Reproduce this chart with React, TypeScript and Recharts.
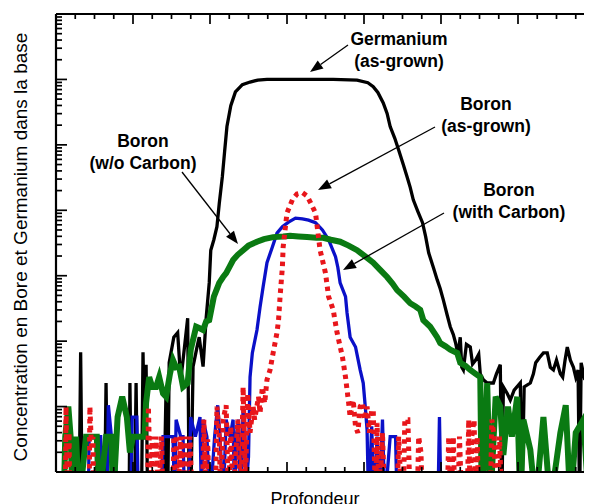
import React from 'react';
import { LineChart, Line, XAxis, YAxis } from 'recharts';

// Depth (arbitrary units, 0..700) and log10(concentration) readings
const germanium: [number, number][] = [
  [0,13.5],[30,13.5],[32,15.83],[34,13.5],[63,13.5],[65,15.36],[67,13.5],[95,13.5],[96,15.36],[98,13.5],
  [102,13.5],[104,15.36],[106,13.5],[111,13.5],[113,15.83],[115,14.5],[117,15.64],[119,13.5],[140,13.5],
  [143,15.3],[145,13.5],[147,15.67],[153,16.06],[158,16.13],[162,15.4],[165,15.71],[171,16.35],[173,13.5],
  [175,13.5],[178,15.61],[183,15.9],[186,16.06],[191,15.61],[195,16.35],[199,16.89],[201,17.39],[205,17.55],
  [209,17.75],[212,18.1],[216,18.51],[219,18.9],[222,19.28],[227,19.6],[233,19.81],[242,19.92],[252,19.96],
  [262,19.99],[274,20.0],[300,20.0],[330,20.0],[360,20.0],[391,19.99],[405,19.95],[412,19.89],[418,19.8],
  [425,19.64],[430,19.48],[434,19.28],[440,19.1],[445,18.92],[451,18.7],[456,18.51],[460,18.35],[464,18.16],
  [470,17.98],[476,17.81],[480,17.6],[484,17.35],[490,17.13],[495,16.94],[499,16.8],[503,16.63],[508,16.4],
  [512,16.22],[516,16.1],[519,15.97],[522,15.8],[525,16.06],[527,15.6],[529,15.56],[533,15.95],[538,15.91],
  [541,15.65],[545,15.71],[549,15.8],[551,15.5],[555,15.41],[560,15.36],[568,15.36],[572,15.5],[577,15.64],
  [579,13.5],[581,15.3],[586,15.2],[590,15.1],[595,15.25],[603,15.36],[605,13.5],[608,15.3],[616,15.36],
  [620,15.5],[623,15.67],[628,15.75],[633,15.82],[638,15.82],[642,15.6],[646,15.56],[650,15.71],[655,15.5],
  [658,15.45],[661,15.7],[664,15.91],[668,15.71],[672,15.6],[675,15.45],[678,15.56],[680,13.5],[682,15.67],
  [686,15.45],[690,15.5],[694,15.71],[700,15.6]
];

const boronWithCarbon: [number, number][] = [
  [0,13.5],[42,13.5],[43,14.54],[58,14.54],[60,13.5],[66,13.5],[68,15.02],[72,14.54],[77,14.54],[79,13.5],
  [97,13.5],[99,14.84],[105,14.84],[107,13.5],[137,13.5],[139,14.54],[152,14.54],[154,13.5],[156,14.8],
  [162,14.54],[165,14.54],[167,13.5],[172,13.5],[175,14.84],[181,14.54],[187,14.84],[189,13.5],[191,14.8],
  [196,14.54],[200,13.5],[206,14.54],[210,15.02],[213,14.54],[217,13.5],[221,14.8],[226,14.54],[230,14.8],
  [232,13.5],[234,14.54],[237,14.8],[240,13.5],[243,15.0],[245,14.6],[247,13.8],[250,14.23],[252,15.45],
  [255,15.82],[261,16.17],[265,16.52],[269,16.83],[274,17.2],[281,17.44],[287,17.65],[294,17.75],[302,17.82],
  [311,17.88],[320,17.87],[328,17.85],[337,17.81],[346,17.7],[354,17.55],[363,17.29],[366,17.13],[369,16.89],
  [376,16.68],[378,16.43],[382,16.06],[389,15.91],[395,15.56],[399,15.36],[402,14.95],[404,14.64],[406,13.5],
  [410,14.7],[413,13.5],[417,14.54],[420,13.5],[424,14.8],[427,13.5],[434,14.54],[441,14.54],[443,13.5],
  [496,13.5],[498,14.84],[500,13.5],[700,13.5]
];

const boronWithoutCarbon: [number, number][] = [
  [0,13.5],[10,13.5],[12,14.54],[16,15.0],[19,14.54],[22,13.5],[26,14.54],[30,13.5],[39,14.54],[53,14.54],
  [56,13.5],[65,14.54],[72,14.54],[74,13.5],[80,14.84],[86,15.15],[92,14.84],[96,14.3],[100,14.54],[115,14.54],
  [117,15.06],[121,15.45],[125,15.3],[130,15.3],[134,15.45],[139,15.2],[143,15.15],[148,15.5],[152,15.71],
  [156,15.6],[160,15.61],[165,15.3],[171,15.36],[175,15.87],[182,16.22],[186,16.2],[191,16.17],[195,16.3],
  [199,16.32],[205,16.68],[212,16.89],[217,16.98],[221,17.04],[226,17.15],[230,17.24],[236,17.32],[243,17.39],
  [250,17.46],[261,17.52],[270,17.56],[282,17.59],[295,17.6],[304,17.61],[315,17.6],[326,17.59],[338,17.58],
  [347,17.58],[357,17.55],[369,17.52],[380,17.46],[391,17.39],[402,17.29],[412,17.2],[421,17.09],[430,16.98],
  [437,16.88],[443,16.78],[452,16.68],[460,16.58],[467,16.53],[473,16.48],[477,16.32],[486,16.22],[490,16.15],
  [495,16.06],[499,15.97],[506,15.92],[512,15.87],[521,15.82],[525,15.67],[532,15.62],[538,15.56],[545,15.5],
  [551,15.45],[553,13.5],[560,15.36],[564,13.5],[571,15.15],[577,15.0],[581,14.26],[587,15.0],[592,14.54],
  [599,15.15],[603,13.5],[607,14.8],[616,14.34],[623,13.5],[633,14.84],[642,13.5],[655,14.6],[662,15.02],
  [668,13.5],[675,14.6],[685,14.8],[692,13.5],[697,14.7],[700,14.5]
];

const boronAsGrown: [number, number][] = [
  [0,13.5],[12,13.5],[13,15.0],[15,13.5],[17,14.6],[18,13.5],[43,13.5],[44,15.0],[46,14.4],[48,14.54],[49,13.5],
  [119,13.5],[120,15.0],[123,13.5],[125,14.54],[127,13.5],[130,14.54],[133,13.5],[137,14.54],[139,13.5],
  [152,13.5],[153,14.54],[156,14.54],[158,13.5],[162,14.54],[165,13.5],[168,14.54],[171,13.5],[174,14.54],
  [177,13.5],[190,13.5],[192,14.8],[195,13.5],[197,14.5],[199,13.5],[207,13.5],[209,15.0],[212,14.54],
  [214,13.5],[217,14.8],[221,15.02],[224,13.5],[227,14.7],[230,13.5],[236,14.8],[240,13.5],[243,15.3],
  [246,13.8],[249,15.2],[252,14.6],[256,15.0],[258,14.8],[263,15.15],[265,14.9],[268,15.3],[271,15.05],
  [274,15.41],[278,15.56],[282,15.82],[287,16.13],[289,16.32],[291,16.68],[294,17.13],[295,17.44],[300,17.96],
  [307,18.16],[313,18.25],[320,18.27],[326,18.22],[330,18.13],[337,17.96],[343,17.39],[350,17.04],[354,16.68],
  [360,16.48],[365,16.13],[372,15.76],[376,15.45],[380,15.06],[382,14.84],[386,15.1],[389,14.69],[392,14.6],
  [395,15.0],[398,15.06],[401,14.8],[404,15.0],[407,14.6],[410,14.95],[412,14.95],[415,13.5],[417,14.75],
  [420,13.5],[424,14.6],[427,13.5],[443,13.5],[445,14.54],[449,13.5],[451,13.5],[453,14.8],[457,14.8],
  [460,13.5],[469,13.5],[471,14.54],[474,14.3],[476,13.5],[508,13.5],[510,14.54],[513,13.5],[516,14.54],
  [518,13.5],[522,13.5],[524,14.54],[527,13.5],[534,13.5],[536,14.8],[538,13.5],[540,14.54],[543,14.8],
  [545,13.5],[547,14.54],[549,13.5],[564,13.5],[566,14.8],[569,14.54],[571,13.5],[574,13.5],[576,14.54],
  [579,13.5],[700,13.5]
];

const xTicks = [0,25,50,75,100,125,150,175,200,225,250,275,300,325,350,375,400,425,450,475,500,525,550,575,600,625,650,675,700];
const decades = [14, 15, 16, 17, 18, 19, 20];
const mantissas = [1, 2, 3, 4, 5, 6, 7, 8, 9];
const yTicks: number[] = [];
decades.forEach((d) => mantissas.forEach((m) => yTicks.push(d + Math.log10(m))));
yTicks.push(21);

const toRows = (arr: [number, number][]) => arr.map(([x, v]) => ({ x, v }));

const FONT = '"Liberation Sans", Arial, Helvetica, sans-serif';

const isMajorY = (v: number) => Math.abs(v - Math.round(v)) < 1e-6;

const XTickBottom = (p: any) => {
  const major = p.payload.value % 100 === 0;
  const len = major ? 10 : 5;
  return <line x1={p.x} x2={p.x} y1={p.y} y2={p.y - len} stroke="#000" strokeWidth={1.7} />;
};
const XTickTop = (p: any) => {
  const major = p.payload.value % 100 === 0;
  const len = major ? 10 : 5;
  return <line x1={p.x} x2={p.x} y1={p.y} y2={p.y + len} stroke="#000" strokeWidth={1.7} />;
};
const YTickLeft = (p: any) => {
  const len = isMajorY(p.payload.value) ? 11 : 6;
  return <line x1={p.x} x2={p.x + len} y1={p.y} y2={p.y} stroke="#000" strokeWidth={1.7} />;
};
const YTickRight = (p: any) => {
  const len = isMajorY(p.payload.value) ? 11 : 6;
  return <line x1={p.x} x2={p.x - len} y1={p.y} y2={p.y} stroke="#000" strokeWidth={1.7} />;
};

const Arrow = ({ x1, y1, x2, y2 }: { x1: number; y1: number; x2: number; y2: number }) => {
  const a = Math.atan2(y2 - y1, x2 - x1);
  const L = 13, W = 5;
  const bx = x2 - L * Math.cos(a), by = y2 - L * Math.sin(a);
  const px = -Math.sin(a) * W, py = Math.cos(a) * W;
  return (
    <g>
      <line x1={x1} y1={y1} x2={bx} y2={by} stroke="#000" strokeWidth={1.3} />
      <polygon points={`${x2},${y2} ${bx + px},${by + py} ${bx - px},${by - py}`} fill="#000" />
    </g>
  );
};

const Note = ({ x, y, lines }: { x: number; y: number; lines: string[] }) => (
  <text x={x} y={y} textAnchor="middle" fontFamily={FONT} fontWeight="bold" fontSize={17.5} fill="#000">
    {lines.map((l, i) => (
      <tspan key={i} x={x} dy={i === 0 ? 0 : 21.5}>{l}</tspan>
    ))}
  </text>
);

export default function App() {
  return (
    <div style={{ position: 'relative', width: 600, height: 504, margin: '-8px 0 0 -8px', background: '#fff' }}>
      <LineChart width={600} height={504} margin={{ top: 13, right: 4, bottom: 31, left: 55 }}>
        <XAxis xAxisId="b" type="number" dataKey="x" domain={[0, 700]} ticks={xTicks} interval={0}
          allowDataOverflow height={1} tickSize={0} tickMargin={0} tickLine={false}
          axisLine={{ stroke: '#000', strokeWidth: 2.2 }} tick={<XTickBottom />} />
        <XAxis xAxisId="t" orientation="top" type="number" dataKey="x" domain={[0, 700]} ticks={xTicks} interval={0}
          allowDataOverflow height={1} tickSize={0} tickMargin={0} tickLine={false}
          axisLine={{ stroke: '#000', strokeWidth: 2.2 }} tick={<XTickTop />} />
        <YAxis yAxisId="l" type="number" domain={[14, 21]} ticks={yTicks} interval={0}
          allowDataOverflow width={1} tickSize={0} tickMargin={0} tickLine={false}
          axisLine={{ stroke: '#000', strokeWidth: 2.2 }} tick={<YTickLeft />} />
        <YAxis yAxisId="r" orientation="right" type="number" domain={[14, 21]} ticks={yTicks} interval={0}
          allowDataOverflow width={1} tickSize={0} tickMargin={0} tickLine={false}
          axisLine={{ stroke: '#000', strokeWidth: 2.2 }} tick={<YTickRight />} />
        <Line xAxisId="b" yAxisId="l" data={toRows(germanium)} dataKey="v" type="linear" stroke="#000"
          strokeWidth={3.3} dot={false} isAnimationActive={false} />
        <Line xAxisId="b" yAxisId="l" data={toRows(boronWithCarbon)} dataKey="v" type="linear" stroke="#0a10c8"
          strokeWidth={3.3} dot={false} isAnimationActive={false} />
        <Line xAxisId="b" yAxisId="l" data={toRows(boronWithoutCarbon)} dataKey="v" type="linear" stroke="#0a7a12"
          strokeWidth={6} dot={false} isAnimationActive={false} />
        <Line xAxisId="b" yAxisId="l" data={toRows(boronAsGrown)} dataKey="v" type="linear" stroke="#e8161b"
          strokeWidth={5} strokeDasharray="4.5 4.5" dot={false} isAnimationActive={false} />
      </LineChart>
      <svg width={600} height={504} style={{ position: 'absolute', left: 0, top: 0, pointerEvents: 'none' }}>
        <text transform="rotate(-90)" x={-247} y={27} textAnchor="middle" fontFamily={FONT} fontSize={19} fill="#000">
          Concentration en Bore et Germanium dans la base
        </text>
        <text x={315} y={505} textAnchor="middle" fontFamily={FONT} fontSize={18} fill="#000">Profondeur</text>
        <Note x={399} y={45} lines={['Germanium', '(as-grown)']} />
        <Note x={486} y={110} lines={['Boron', '(as-grown)']} />
        <Note x={143} y={147} lines={['Boron', '(w/o Carbon)']} />
        <Note x={509} y={196} lines={['Boron', '(with Carbon)']} />
        <Arrow x1={348} y1={45} x2={310} y2={72} />
        <Arrow x1={435} y1={127} x2={318} y2={190} />
        <Arrow x1={182} y1={172} x2={238} y2={244} />
        <Arrow x1={444} y1={213} x2={343} y2={270} />
      </svg>
    </div>
  );
}
